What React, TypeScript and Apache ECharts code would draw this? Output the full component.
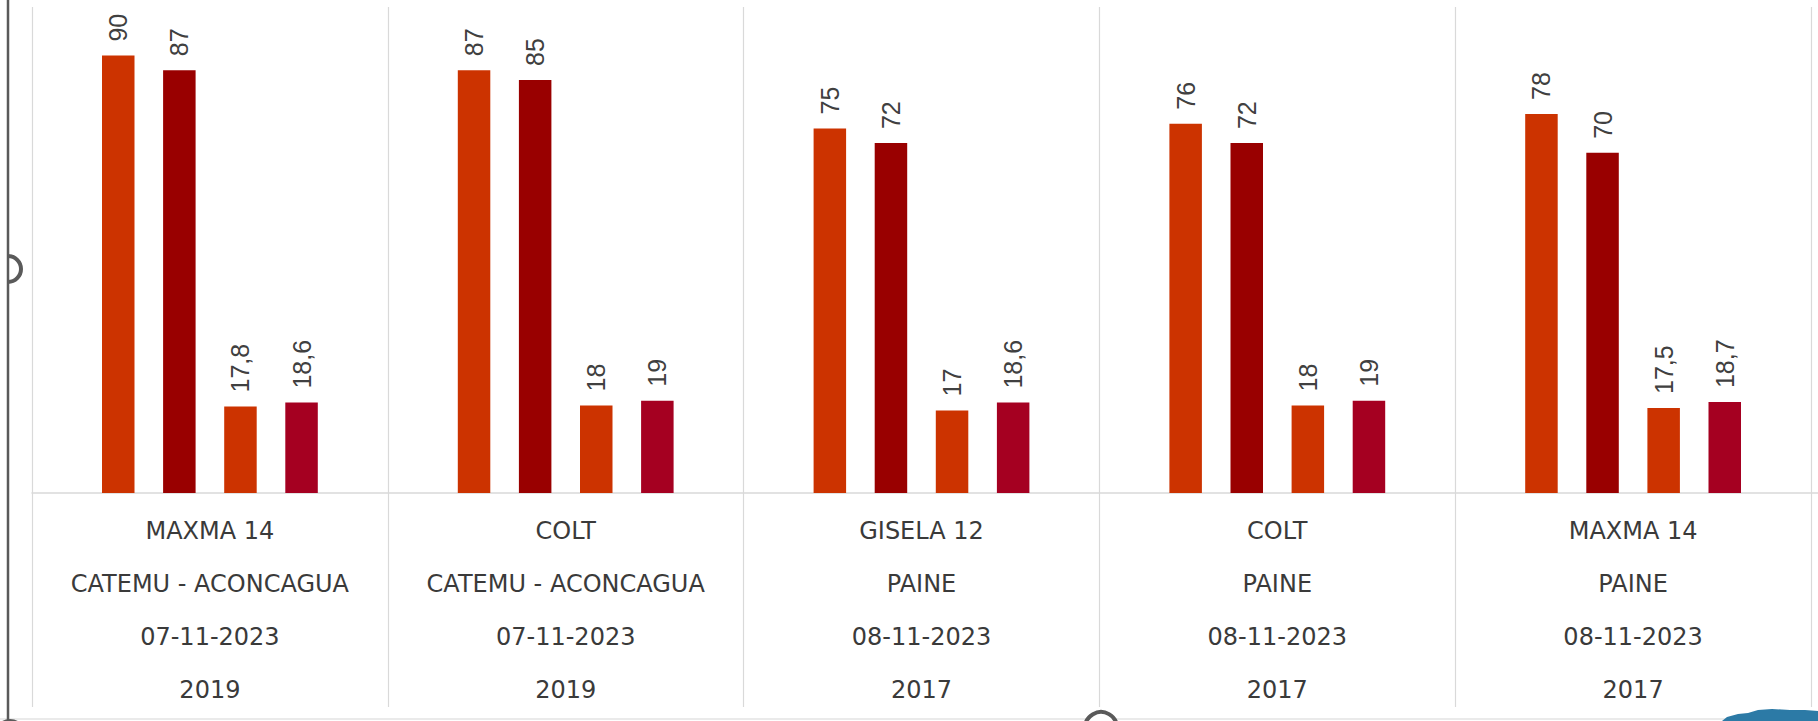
import React, { useEffect, useRef } from "react";
import * as echarts from "echarts";

const varieties = ["MAXMA 14", "COLT", "GISELA 12", "COLT", "MAXMA 14"];
const locations = ["CATEMU - ACONCAGUA", "CATEMU - ACONCAGUA", "PAINE", "PAINE", "PAINE"];
const dates = ["07-11-2023", "07-11-2023", "08-11-2023", "08-11-2023", "08-11-2023"];
const years = ["2019", "2019", "2017", "2017", "2017"];

const series1 = [90, 87, 75, 76, 78];
const series2 = [87, 85, 72, 72, 70];
const series3 = [17.8, 18, 17, 18, 17.5];
const series4 = [18.6, 19, 18.6, 19, 18.7];

const seriesColors = ["#CC3300", "#990000", "#CC3300", "#A50021"];

export default function App() {
  const ref = useRef<HTMLDivElement>(null);

  useEffect(() => {
    if (!ref.current) return;
    const chart = echarts.init(ref.current, null, { renderer: "svg" });
    const categories = varieties.map(
      (v, i) => `${v}\n${locations[i]}\n${dates[i]}\n${years[i]}`
    );
    const allSeries = [series1, series2, series3, series4];
    const handleStyle = { stroke: "#5a5a5a", lineWidth: 4, fill: "none" };
    chart.setOption({
      animation: false,
      backgroundColor: "#ffffff",
      grid: { left: 32, right: 7, top: 7, bottom: 228, containLabel: false },
      xAxis: {
        type: "category",
        data: categories,
        axisLine: { show: true, lineStyle: { color: "#d9d9d9", width: 1.5 } },
        axisTick: { show: true, length: 214, lineStyle: { color: "#d9d9d9", width: 1.2 } },
        splitLine: { show: true, lineStyle: { color: "#d9d9d9", width: 1.2 } },
        axisLabel: {
          interval: 0,
          color: "#3a3a3a",
          fontFamily: "DejaVu Sans",
          fontSize: 24,
          lineHeight: 53,
          margin: 11,
        },
      },
      yAxis: {
        type: "value",
        min: 0,
        max: 100,
        show: false,
        splitLine: { show: false },
      },
      series: allSeries.map((d, i) => ({
        type: "bar",
        data: d,
        barWidth: 32.5,
        barGap: "88%",
        itemStyle: { color: seriesColors[i] },
        label: {
          show: true,
          position: "top",
          rotate: 90,
          align: "left",
          verticalAlign: "middle",
          distance: 14,
          fontFamily: "Liberation Sans",
          fontSize: 25,
          color: "#404040",
          formatter: (p: any) => String(p.value).replace(".", ","),
        },
      })),
      graphic: [
        { type: "line", shape: { x1: 1811, y1: 493, x2: 1818, y2: 493 }, style: { stroke: "#d9d9d9", lineWidth: 1.5 } },
        { type: "line", shape: { x1: 0, y1: 719, x2: 1818, y2: 719 }, style: { stroke: "#e3e3e3", lineWidth: 1.5 } },
        { type: "line", shape: { x1: 8, y1: 0, x2: 8, y2: 721 }, style: { stroke: "#5a5a5a", lineWidth: 2.5 } },
        { type: "arc", shape: { cx: 8, cy: 269, r: 13, startAngle: -Math.PI / 2, endAngle: Math.PI / 2 }, style: handleStyle },
        { type: "arc", shape: { cx: 10, cy: 735, r: 14, startAngle: -Math.PI, endAngle: 0 }, style: handleStyle },
        { type: "circle", shape: { cx: 1101, cy: 728, r: 16 }, style: { stroke: "#5a5a5a", lineWidth: 4, fill: "#ffffff" } },
        {
          type: "polygon",
          shape: {
            points: [
              [1722, 721], [1727, 717], [1738, 714], [1748, 713], [1758, 710],
              [1772, 709], [1790, 710], [1805, 710], [1818, 711], [1818, 721],
            ],
          },
          style: { fill: "#2c7aa6" },
        },
      ],
    });
    return () => chart.dispose();
  }, []);

  return (
    <div
      ref={ref}
      style={{ position: "absolute", left: 0, top: 0, width: 1818, height: 721 }}
    />
  );
}
